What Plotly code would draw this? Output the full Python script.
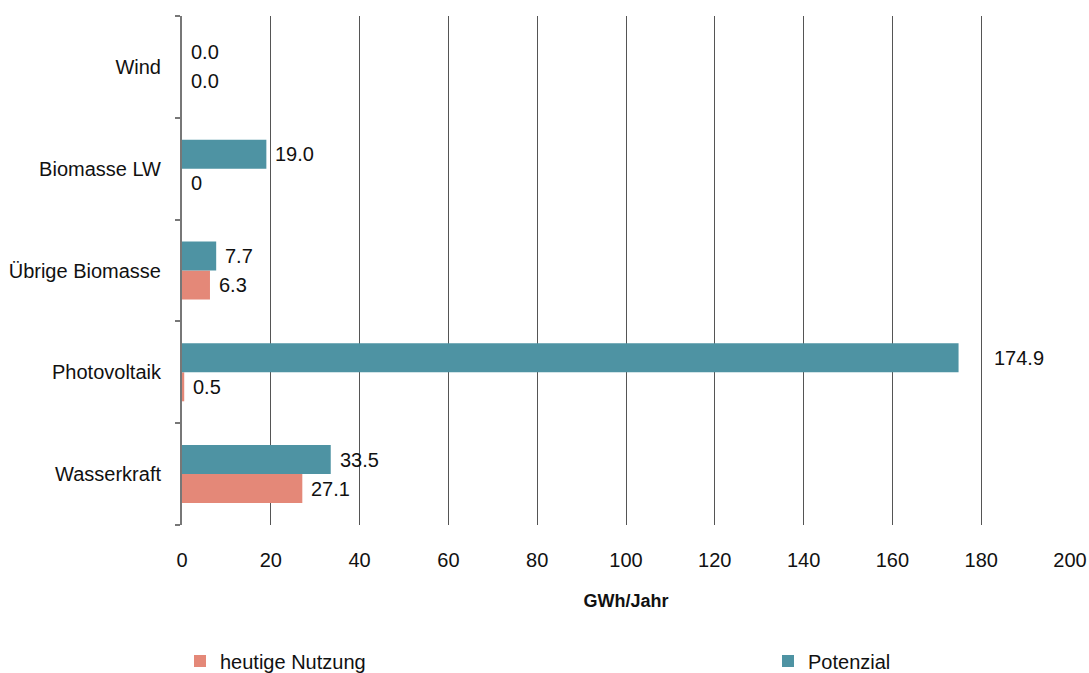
import plotly.graph_objects as go

categories = ["Wasserkraft", "Photovoltaik", "Übrige Biomasse", "Biomasse LW", "Wind"]
heutige_nutzung = [27.1, 0.5, 6.3, 0.0, 0.0]
heutige_labels = ["27.1", "0.5", "6.3", "0", "0.0"]
potenzial = [33.5, 174.9, 7.7, 19.0, 0.0]
potenzial_labels = ["33.5", "174.9", "7.7", "19.0", "0.0"]
x_ticks = [0, 20, 40, 60, 80, 100, 120, 140, 160, 180, 200]

FONT = "Liberation Sans, Arial, sans-serif"
FS = 20
SALMON = "#E48878"
TEAL = "#4E93A3"
W, H = 1089, 673

fig = go.Figure()
fig.add_trace(go.Bar(y=categories, x=heutige_nutzung, orientation="h",
                     name="heutige Nutzung", legend="legend",
                     marker=dict(color=SALMON, line=dict(width=0))))
fig.add_trace(go.Bar(y=categories, x=potenzial, orientation="h",
                     name="Potenzial", legend="legend2",
                     marker=dict(color=TEAL, line=dict(width=0))))

half = 14.5
annotations = []
vmax = max(potenzial)
for cat, v, t in zip(categories, heutige_nutzung, heutige_labels):
    annotations.append(dict(x=v, y=cat, xref="x", yref="y", text=t, showarrow=False,
                            xanchor="left", yanchor="middle", xshift=7, yshift=-half,
                            font=dict(family=FONT, size=FS, color="#111")))
for cat, v, t in zip(categories, potenzial, potenzial_labels):
    annotations.append(dict(x=v, y=cat, xref="x", yref="y", text=t, showarrow=False,
                            xanchor="left", yanchor="middle",
                            xshift=33 if v == vmax else 7, yshift=half,
                            font=dict(family=FONT, size=FS, color="#111")))

legend_common = dict(orientation="h", xref="container", yref="container",
                     y=1 - 661 / H, xanchor="left", yanchor="middle",
                     font=dict(family=FONT, size=FS, color="#111"), itemclick=False,
                     bgcolor="rgba(0,0,0,0)")

fig.update_layout(
    width=W, height=H,
    margin=dict(l=182, r=19, t=16, b=148, autoexpand=False),
    paper_bgcolor="white", plot_bgcolor="white",
    barmode="group", bargap=0.43, bargroupgap=0,
    font=dict(family=FONT, size=FS, color="#111"),
    annotations=annotations,
    showlegend=True,
    legend=dict(x=180 / W, **legend_common),
    legend2=dict(x=768 / W, **legend_common),
    xaxis=dict(range=[0, 200], tickvals=x_ticks, showgrid=True, gridcolor="#555",
               gridwidth=1, zeroline=False, showline=False, ticks="",
               ticklabelstandoff=21, automargin=False,
               title=dict(text="<b>GWh/Jahr</b>", standoff=24,
                          font=dict(family=FONT, size=18, color="#111")),
               tickfont=dict(family=FONT, size=FS, color="#111")),
    yaxis=dict(type="category", categoryorder="array", categoryarray=categories,
               showline=True, linecolor="#777", linewidth=2, automargin=False,
               ticks="outside", tickson="boundaries", ticklen=5, tickcolor="#777",
               tickwidth=2, showgrid=False, ticklabelstandoff=15,
               tickfont=dict(family=FONT, size=FS, color="#111")),
)

fig.write_html("out.html", config={"displayModeBar": False},
               post_script="document.body.style.margin='0';document.body.style.overflow='hidden';")
